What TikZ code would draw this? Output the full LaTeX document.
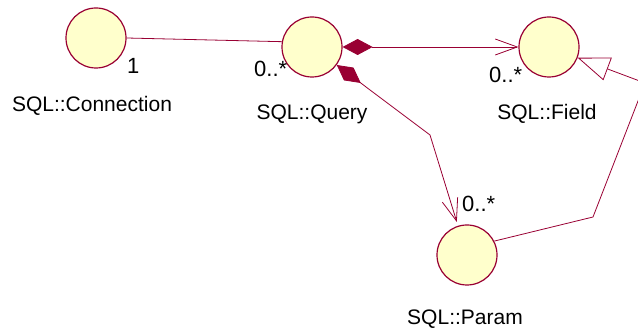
\documentclass[tikz,border=0pt]{standalone}
\usepackage{fontspec}
\setmainfont{Liberation Sans}
\usetikzlibrary{arrows.meta}
\definecolor{umlred}{RGB}{153,0,51}
\definecolor{umlfill}{RGB}{255,255,204}
\begin{document}
\begin{tikzpicture}[x=1pt, y=-1pt,
  class node/.style={circle, draw=umlred, fill=umlfill, line width=1.2pt, minimum size=60pt},
  mult/.style={anchor=base west, font=\fontsize{22}{26}\selectfont},
  assoc/.style={draw=umlred, line width=0.8pt},
  comp/.style={assoc, {Diamond[length=30pt,width=16pt]}-{Straight Barb[length=22pt,width=16pt]}},
  gen/.style={assoc, -{Triangle[open,length=32pt,width=24pt]}}]
        \tikzstyle{every node}=[font=\fontsize{21}{25}\selectfont, inner sep=0pt]
        \useasboundingbox (0,0) rectangle (638,328);

          \node[class node] (conn) at (96,38) {};
          \node[class node] (query) at (312,47) {};
          \node[class node] (field) at (549,47) {};
          \node[class node] (param) at (467,255) {};

          \node[anchor=base] (connname) at (92,112) {SQL::Connection};
          \node[anchor=base] (queryname) at (312,120) {SQL::Query};
          \node[anchor=base] (fieldname) at (547,120) {SQL::Field};
          \node[anchor=base] (paramname) at (465,325) {SQL::Param};

          \node[mult] (connmult) at (127,74) {1};
          \node[mult] (querymult) at (254,77) {0..*};
          \node[mult] (fieldmult) at (489,83) {0..*};
          \node[mult] (parammult) at (462,212) {0..*};

          \coordinate (qbend) at (430,135);
          \coordinate (pbend) at (593,217);
          \coordinate (fbend) at (645,83);

          \draw[assoc] (conn.east) -- (query.170);
          \draw[comp] (query) -- (field);
          \draw[comp, shorten >=4pt] (query.-36) -- (qbend) -- (param);
          \draw[gen] (param.27) -- (pbend) -- (fbend) -- (field);

        \end{tikzpicture}
\end{document}
